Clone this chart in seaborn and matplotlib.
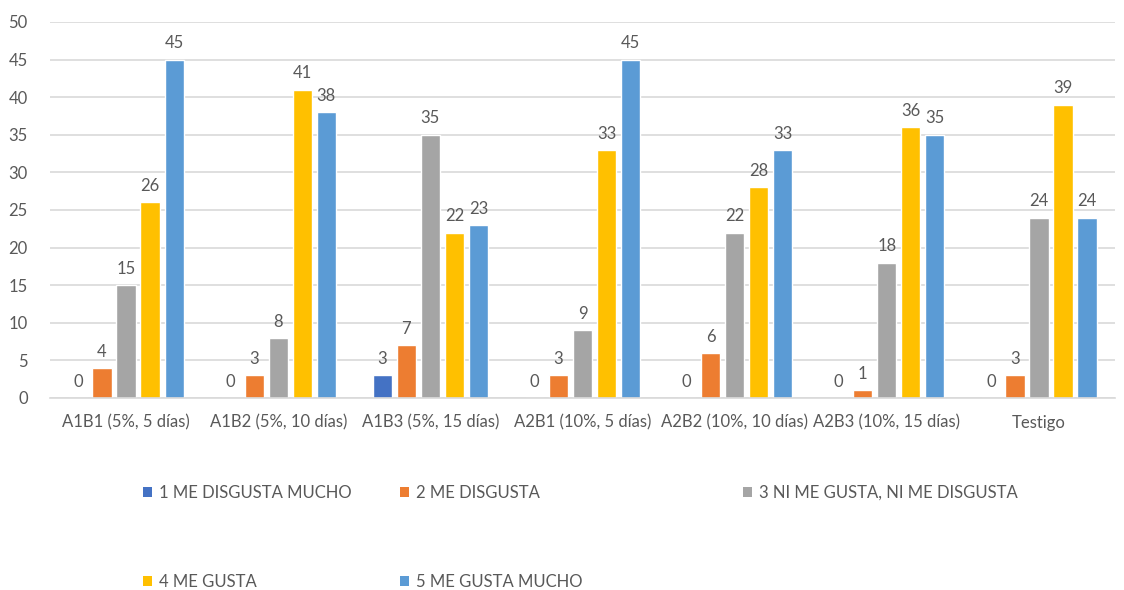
import matplotlib
matplotlib.use("Agg")
import matplotlib.pyplot as plt
from matplotlib.patches import Patch
import seaborn as sns
import pandas as pd

categories = ["A1B1 (5%, 5 días)", "A1B2 (5%, 10 días)", "A1B3 (5%, 15 días)",
              "A2B1 (10%, 5 días)", "A2B2 (10%, 10 días)", "A2B3 (10%, 15 días)",
              "Testigo"]
series_names = ["1 ME DISGUSTA MUCHO", "2 ME DISGUSTA", "3 NI ME GUSTA, NI ME DISGUSTA",
                "4 ME GUSTA", "5 ME GUSTA MUCHO"]
me_disgusta_mucho = [0, 0, 3, 0, 0, 0, 0]
me_disgusta = [4, 3, 7, 3, 6, 1, 3]
ni_gusta_ni_disgusta = [15, 8, 35, 9, 22, 18, 24]
me_gusta = [26, 41, 22, 33, 28, 36, 39]
me_gusta_mucho = [45, 38, 23, 45, 33, 35, 24]
yticks = list(range(0, 51, 5))

colors = ["#4472C4", "#ED7D31", "#A5A5A5", "#FFC000", "#5B9BD5"]
text_color = "#595959"

values = [me_disgusta_mucho, me_disgusta, ni_gusta_ni_disgusta, me_gusta, me_gusta_mucho]
rows = []
for name, vals in zip(series_names, values):
    for cat, v in zip(categories, vals):
        rows.append({"categoria": cat, "serie": name, "valor": v})
df = pd.DataFrame(rows)

sns.set_style("white")
plt.rcParams["font.family"] = ["Lato", "DejaVu Sans"]

fig = plt.figure(figsize=(11.24, 5.90), dpi=100)
ax = fig.add_axes([50 / 1124, 1 - 398 / 590, 1065 / 1124, 376 / 590])

sns.barplot(data=df, x="categoria", y="valor", hue="serie", order=categories,
            hue_order=series_names, palette=colors, width=0.79, gap=0.2,
            saturation=1, legend=False, ax=ax, errorbar=None)

for cont in ax.containers:
    ax.bar_label(cont, fmt="%d", padding=6, fontsize=12, color=text_color)

ax.set_ylim(0, 50)
ax.set_yticks(yticks)
ax.set_xlim(-0.5, len(categories) - 0.5)
ax.yaxis.grid(True, color="#D9D9D9", linewidth=1.2)
ax.set_axisbelow(True)
for s in ["top", "right", "left"]:
    ax.spines[s].set_visible(False)
ax.spines["bottom"].set_color("#D9D9D9")
ax.spines["bottom"].set_linewidth(1.2)
ax.tick_params(axis="both", length=0, labelsize=12, labelcolor=text_color)
ax.tick_params(axis="x", pad=12)
ax.tick_params(axis="y", pad=16)
ax.set_xlabel("")
ax.set_ylabel("")

# Legend entries placed individually beneath the chart
legend_pos = [(143, 493), (400, 493), (743, 493), (143, 582), (400, 582)]
for name, col, (px, py) in zip(series_names, colors, legend_pos):
    fig.legend(handles=[Patch(facecolor=col, edgecolor="none", label=name)],
               loc="center left", bbox_to_anchor=(px / 1124, 1 - py / 590),
               frameon=False, borderpad=0, borderaxespad=0, handletextpad=0.4,
               handlelength=0.55, handleheight=0.55, fontsize=12,
               labelcolor=text_color)

fig.savefig("out.png", dpi=100)
